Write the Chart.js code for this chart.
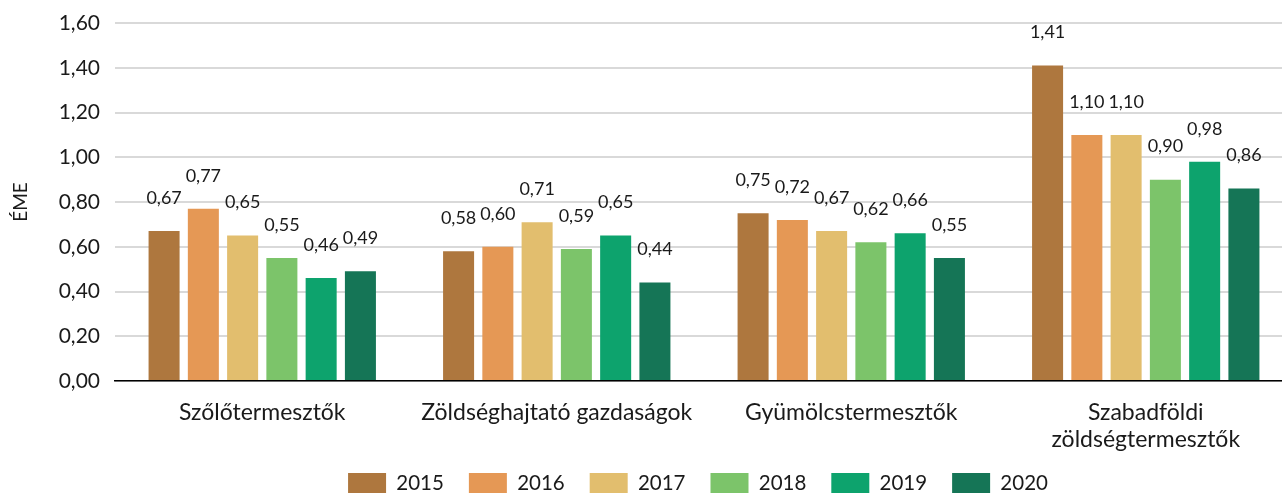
<!DOCTYPE html>
<html>
<head>
<meta charset="utf-8">
<script src="https://cdn.jsdelivr.net/npm/chart.js@4.4.1/dist/chart.umd.min.js"></script>
<style>
  html, body { margin: 0; padding: 0; background: #fff; overflow: hidden; }
  #wrap { width: 1300px; height: 493px; }
</style>
</head>
<body>
<div id="wrap"><canvas id="chart" width="1300" height="493"></canvas></div>
<script>
// kategóriák és évek
var categories = ['Szőlőtermesztők', 'Zöldséghajtató gazdaságok', 'Gyümölcstermesztők', ['Szabadföldi', 'zöldségtermesztők']];
var years = ['2015', '2016', '2017', '2018', '2019', '2020'];

// ÉME értékek évenként (kategóriák sorrendjében)
var v2015 = [0.67, 0.58, 0.75, 1.41];
var v2016 = [0.77, 0.60, 0.72, 1.10];
var v2017 = [0.65, 0.71, 0.67, 1.10];
var v2018 = [0.55, 0.59, 0.62, 0.90];
var v2019 = [0.46, 0.65, 0.66, 0.98];
var v2020 = [0.49, 0.44, 0.55, 0.86];

var yMin = 0, yMax = 1.6, yStep = 0.2;

var colors = ['#ae773e', '#e59855', '#e2be6e', '#7cc46a', '#0da36d', '#157556'];
var series = [v2015, v2016, v2017, v2018, v2019, v2020];

function fmt(v) {
    return v.toFixed(2).replace('.', ',');
}

Chart.defaults.font.family = 'Lato, "Open Sans", sans-serif';
Chart.defaults.color = '#1a1a1a';

var LEGEND_H = 30;

// értékcímkék az oszlopok fölé
var valueLabels = {
    id: 'valueLabels',
    afterDatasetsDraw: function(chart) {
        var ctx = chart.ctx;
        ctx.save();
        ctx.font = '18px Lato, "Open Sans", sans-serif';
        ctx.fillStyle = '#1a1a1a';
        ctx.textAlign = 'center';
        ctx.textBaseline = 'middle';
        chart.data.datasets.forEach(function(ds, i) {
            chart.getDatasetMeta(i).data.forEach(function(bar, j) {
                ctx.fillText(fmt(ds.data[j]), bar.x, bar.y - 33);
            });
        });
        ctx.restore();
    }
};

// jelmagyarázat: kis magasság a layoutban, aztán áthelyezés
var legendShift = {
    id: 'legendShift',
    beforeLayout: function(chart) {
        var lg = chart.legend;
        if (lg && !lg._fitPatched) {
            var fit = lg.fit;
            lg.fit = function() {
                fit.call(this);
                this.height = LEGEND_H;
            };
            lg._fitPatched = true;
        }
    },
    afterLayout: function(chart) {
        var lg = chart.legend;
        var pad = lg.options.labels.padding;
        var dx = 698 - (lg.left + lg.right) / 2;
        lg.left += dx; lg.right += dx;
        lg.top = 473 - pad;
        lg.bottom = chart.height + 40;
    }
};

var datasets = years.map(function(y, i) {
    return {
        label: y,
        data: series[i],
        backgroundColor: colors[i],
        borderWidth: 0,
        categoryPercentage: 0.8,
        barPercentage: 0.79
    };
});

new Chart(document.getElementById('chart'), {
    type: 'bar',
    data: { labels: categories, datasets: datasets },
    plugins: [valueLabels, legendShift],
    options: {
        responsive: false,
        animation: false,
        layout: { padding: { top: 23, right: 7, left: 0, bottom: 0 } },
        plugins: {
            tooltip: { enabled: false },
            legend: {
                position: 'bottom',
                labels: {
                    boxWidth: 38,
                    boxHeight: 21,
                    padding: 25,
                    font: { size: 20.5 },
                    color: '#1a1a1a'
                }
            }
        },
        scales: {
            x: {
                grid: { display: false, drawTicks: false },
                border: { display: true, color: '#000', width: 1.5 },
                ticks: { font: { size: 23, lineHeight: 1.18 }, padding: 18, maxRotation: 0, autoSkip: false },
                afterFit: function(scale) {
                    scale.height = scale.chart.height - LEGEND_H - 381;
                    scale.paddingLeft = 0;
                    scale.paddingRight = 0;
                }
            },
            y: {
                min: yMin,
                max: yMax,
                border: { display: false },
                grid: { color: '#d9d9d9', lineWidth: 2, drawTicks: false },
                ticks: {
                    stepSize: yStep,
                    padding: 15,
                    font: { size: 21 },
                    callback: function(v) { return fmt(v); }
                },
                title: {
                    display: true,
                    text: 'ÉME',
                    font: { size: 19 },
                    padding: { top: 9, bottom: 0 }
                },
                afterFit: function(scale) {
                    scale.width = 115;
                    scale.paddingTop = 0;
                    scale.paddingBottom = 0;
                }
            }
        }
    }
});
</script>
</body>
</html>
